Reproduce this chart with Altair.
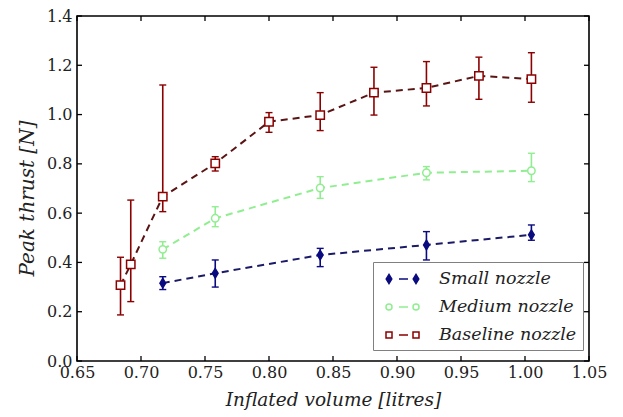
import altair as alt
import pandas as pd

series_names = ["Small nozzle", "Medium nozzle", "Baseline nozzle"]

small_x = [0.717, 0.758, 0.840, 0.923, 1.005]
small_y = [0.316, 0.356, 0.430, 0.471, 0.512]
small_lo = [0.290, 0.300, 0.383, 0.410, 0.490]
small_hi = [0.342, 0.410, 0.457, 0.525, 0.552]

medium_x = [0.717, 0.758, 0.840, 0.923, 1.005]
medium_y = [0.453, 0.579, 0.702, 0.764, 0.772]
medium_lo = [0.417, 0.545, 0.660, 0.735, 0.728]
medium_hi = [0.484, 0.626, 0.748, 0.789, 0.843]

base_x = [0.684, 0.692, 0.717, 0.758, 0.800, 0.840, 0.882, 0.923, 0.964, 1.005]
base_y = [0.308, 0.392, 0.667, 0.802, 0.971, 0.998, 1.089, 1.108, 1.157, 1.144]
base_lo = [0.187, 0.241, 0.606, 0.771, 0.928, 0.935, 0.998, 1.035, 1.062, 1.050]
base_hi = [0.421, 0.653, 1.120, 0.829, 1.008, 1.089, 1.192, 1.215, 1.233, 1.251]

x_ticks = [0.65, 0.70, 0.75, 0.80, 0.85, 0.90, 0.95, 1.00, 1.05]
y_ticks = [0.0, 0.2, 0.4, 0.6, 0.8, 1.0, 1.2, 1.4]

W, H = 512, 345
FONT = "DejaVu Serif"
TXT = "#222222"

xs = alt.Scale(domain=[0.65, 1.05], nice=False, zero=False)
ys = alt.Scale(domain=[0.0, 1.4], nice=False, zero=False)

x_axis = alt.Axis(values=x_ticks, format=".2f", title="Inflated volume [litres]",
                  ticks=False, domain=False, grid=False, labelPadding=3,
                  labelFlush=False, labelOverlap=False,
                  titleFontSize=18.5, titleY=38, titleBaseline="middle")
y_axis = alt.Axis(values=y_ticks, format=".1f", title="Peak thrust [N]",
                  ticks=False, domain=False, grid=False, labelPadding=5,
                  labelFlush=False, labelOverlap=False,
                  titleFontSize=20, titleX=-50, titleY=182, titleBaseline="middle")


def X(field):
    return alt.X(field, scale=xs, axis=x_axis, title="Inflated volume [litres]")


def Y(field):
    return alt.Y(field, scale=ys, axis=y_axis, title="Peak thrust [N]")


NAVY = "#0b0b80"
GREEN = "#90ee90"
DRED = "#8b0000"

diamond = "M0,-1 L0.6,0 L0,1 L-0.6,0 Z"

series = [
    # name, x, y, lo, hi, line color, marker stroke, marker fill, shape, size
    ("Small nozzle", small_x, small_y, small_lo, small_hi, "#1a1a66", NAVY, NAVY, diamond, 90),
    ("Medium nozzle", medium_x, medium_y, medium_lo, medium_hi, GREEN, GREEN, "white", "circle", 55),
    ("Baseline nozzle", base_x, base_y, base_lo, base_hi, "#5a1414", DRED, "white", "square", 70),
]

layers = []

for name, xv, yv, lo, hi, lc, mc, fc, shp, sz in series:
    df = pd.DataFrame({"x": xv, "y": yv, "lo": lo, "hi": hi})
    base = alt.Chart(df)
    line = base.mark_line(color=lc, strokeDash=[7, 5], strokeWidth=2).encode(
        x=X("x:Q"), y=Y("y:Q"))
    err = base.mark_rule(color=mc, strokeWidth=1.6).encode(
        x=X("x:Q"), y=Y("lo:Q"), y2="hi:Q")
    cap_lo = base.mark_tick(color=mc, orient="horizontal", size=7, thickness=1.4, opacity=1).encode(
        x=X("x:Q"), y=Y("lo:Q"))
    cap_hi = base.mark_tick(color=mc, orient="horizontal", size=7, thickness=1.4, opacity=1).encode(
        x=X("x:Q"), y=Y("hi:Q"))
    pts = base.mark_point(shape=shp, size=sz, filled=True, fill=fc, stroke=mc,
                          strokeWidth=1.5, opacity=1).encode(
        x=X("x:Q"), y=Y("y:Q"))
    layers += [line, err, cap_lo, cap_hi, pts]

# inward ticks on all four sides
xt_df = pd.DataFrame({"t": x_ticks})
yt_df = pd.DataFrame({"t": y_ticks})
TL = 5
layers.append(alt.Chart(xt_df).mark_rule(color="black", strokeWidth=1.3).encode(
    x=X("t:Q"), y=alt.value(H), y2=alt.value(H - TL)))
layers.append(alt.Chart(xt_df).mark_rule(color="black", strokeWidth=1.3).encode(
    x=X("t:Q"), y=alt.value(0), y2=alt.value(TL)))
layers.append(alt.Chart(yt_df).mark_rule(color="black", strokeWidth=1.3).encode(
    y=Y("t:Q"), x=alt.value(0), x2=alt.value(TL)))
layers.append(alt.Chart(yt_df).mark_rule(color="black", strokeWidth=1.3).encode(
    y=Y("t:Q"), x=alt.value(W), x2=alt.value(W - TL)))


# legend (symbol = marker, dash, marker)
def leg_diamond(cx):
    return f"M{cx},-0.45 L{cx+0.28},0 L{cx},0.45 L{cx-0.28},0 Z"


def leg_circle(cx):
    return f"M{cx+0.3},0 A0.3,0.3 0 1,1 {cx-0.3},0 A0.3,0.3 0 1,1 {cx+0.3},0 Z"


def leg_square(cx):
    return f"M{cx-0.3},-0.3 L{cx+0.3},-0.3 L{cx+0.3},0.3 L{cx-0.3},0.3 Z"


dash = "M0.9,0 L1.8,0"
legend_paths = [
    f"{leg_diamond(-0.1)} {dash} {leg_diamond(2.6)}",
    f"{leg_circle(-0.1)} {dash} {leg_circle(2.6)}",
    f"{leg_square(-0.1)} {dash} {leg_square(2.6)}",
]

leg = alt.Legend(orient="none", legendX=296, legendY=246, title=None, padding=6,
                 strokeColor="#808080", fillColor="white", symbolSize=400,
                 symbolStrokeWidth=1.5, labelFont=FONT, labelFontStyle="italic",
                 labelFontSize=17.5, labelColor=TXT, labelOffset=38, rowPadding=8)

legend_df = pd.DataFrame({"series": series_names})
legend_layer = alt.Chart(legend_df).transform_filter("false").mark_point(
    filled=True, size=400, strokeWidth=1.5, opacity=1).encode(
    shape=alt.Shape("series:N", scale=alt.Scale(domain=series_names, range=legend_paths), legend=leg),
    stroke=alt.Stroke("series:N", scale=alt.Scale(domain=series_names, range=[NAVY, GREEN, DRED]), legend=leg),
    fill=alt.Fill("series:N", scale=alt.Scale(domain=series_names, range=[NAVY, "white", "white"]), legend=leg),
)
layers.append(legend_layer)

chart = alt.layer(*layers).properties(
    width=W, height=H,
    padding={"left": 77, "top": 16, "right": 34, "bottom": 56},
    autosize=alt.AutoSizeParams(type="none"),
    background="white",
).configure_view(stroke="black", strokeWidth=1.6).configure_axis(
    labelFont=FONT, labelFontSize=16, labelColor=TXT,
    titleFont=FONT, titleFontStyle="italic",
    titleFontWeight="normal", titleColor=TXT,
)

chart.save("out.html", embed_options={"renderer": "svg", "actions": False})
